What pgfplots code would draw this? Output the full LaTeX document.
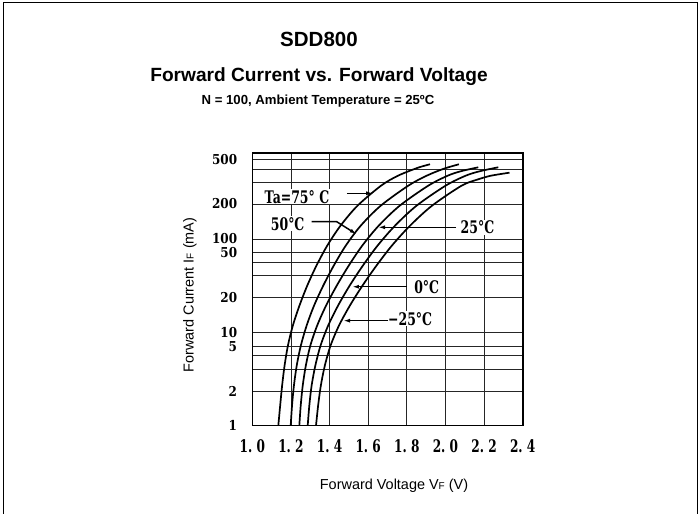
\documentclass[border=0pt]{standalone}
\usepackage{fontspec}
\setmainfont{Liberation Sans}
\newfontfamily\xserif[FakeStretch=0.7]{DejaVu Serif}
\newfontfamily\yserif[FakeStretch=0.88]{DejaVu Serif}
\newfontfamily\aserif[FakeStretch=0.72]{DejaVu Serif}
\usepackage{pgfplots}
\pgfplotsset{compat=1.18}
\usetikzlibrary{arrows.meta}

% Forward current (mA) vs forward voltage (V)
\pgfplotstableread{
V I
1.1346 1
1.1442 1.637
1.1543 2.679
1.1670 4.386
1.1843 7.178
1.2097 11.75
1.2439 19.23
1.2843 31.48
1.3319 51.53
1.3878 84.35
1.4567 138.1
1.5447 226.0
1.6664 369.9
1.7544 473.5
1.8579 576.6
1.9201 627.0
}\tseventyfive
\pgfplotstableread{
V I
1.1988 1
1.2056 1.637
1.2154 2.679
1.2299 4.386
1.2511 7.178
1.2811 11.75
1.3195 19.23
1.3671 31.48
1.4215 51.53
1.4836 84.35
1.5613 138.1
1.6648 226.0
1.8072 369.9
1.9030 473.5
1.9920 562.6
2.0697 627.0
}\tfifty
\pgfplotstableread{
V I
1.2434 1
1.2506 1.637
1.2610 2.679
1.2770 4.386
1.3003 7.178
1.3355 11.75
1.3816 19.23
1.4370 31.48
1.4991 51.53
1.5690 84.35
1.6544 138.1
1.7632 226.0
1.9107 369.9
2.0117 473.5
2.0806 529.0
2.1701 582.4
}\ttwentyfive
\pgfplotstableread{
V I
1.2868 1
1.2951 1.637
1.3070 2.679
1.3262 4.386
1.3531 7.178
1.3925 11.75
1.4437 19.23
1.5038 31.48
1.5721 51.53
1.6482 84.35
1.7388 138.1
1.8502 226.0
2.0003 369.9
2.1049 473.5
2.1789 529.0
2.2737 582.4
}\tzero
\pgfplotstableread{
V I
1.3298 1
1.3407 1.637
1.3547 2.679
1.3754 4.386
1.4049 7.178
1.4484 11.75
1.5048 19.23
1.5701 31.48
1.6425 51.53
1.7223 84.35
1.8165 138.1
1.9304 226.0
2.0832 369.9
2.1634 429.0
2.2359 473.5
2.3317 509.8
}\tminus

\begin{document}
\begin{tikzpicture}[x=1bp,y=1bp]
\useasboundingbox (0,0) rectangle (700,514);
\draw[line width=1bp] (3,0) -- (3,511.5) -- (697,511.5) -- (697,0);
\node[anchor=base, font=\bfseries\fontsize{20.6}{20.6}\selectfont] at (319,467.3) {SDD800};
\node[anchor=base, font=\bfseries\fontsize{19.2}{19.2}\selectfont] at (319,432) {Forward Current vs. Forward Voltage};
\node[anchor=base, font=\bfseries\fontsize{13.2}{13.2}\selectfont] at (318,409) {N = 100, Ambient Temperature = 25ºC};
\node[anchor=base, font=\fontsize{14.5}{14.5}\selectfont] at (394,24.5) {Forward Voltage V{\fontsize{10}{10}\selectfont F} (V)};
\node[rotate=90, font=\fontsize{14.5}{14.5}\selectfont] at (190,219) {Forward Current I{\fontsize{10}{10}\selectfont F} (mA)};
\begin{axis}[
  at={(252.3bp,88.3bp)}, anchor=south west,
  scale only axis, width=270.4bp, height=272.4bp,
  ymode=log,
  xmin=1, xmax=2.4, ymin=1, ymax=822.2,
  xtick={1,1.2,1.4,1.6,1.8,2,2.2,2.4},
  xticklabels={1.\ 0,1.\ 2,1.\ 4,1.\ 6,1.\ 8,2.\ 0,2.\ 2,2.\ 4},
  ytick={1,2.351,4.013,5.666,7.004,9.99,23.66,40.29,55.51,71.72,99.5,235.7,402.3,558.3,709.4},
  yticklabels={1,2,,,5,10,20,,,50,100,200,,,500},
  major tick length=0pt,
  grid=major,
  major grid style={line width=0.7bp, black!85},
  axis line style={line width=1.6bp},
  xticklabel style={font=\xserif\bfseries\fontsize{17.4}{17.4}\selectfont, inner sep=0pt, yshift=-14bp},
  yticklabel style={font=\yserif\bfseries\fontsize{13.7}{13.7}\selectfont, inner sep=0pt, xshift=-15bp},
]
\addplot[line width=1.7bp, black, smooth] table[x=V,y=I] {\tseventyfive};
\addplot[line width=1.7bp, black, smooth] table[x=V,y=I] {\tfifty};
\addplot[line width=1.7bp, black, smooth] table[x=V,y=I] {\ttwentyfive};
\addplot[line width=1.7bp, black, smooth] table[x=V,y=I] {\tzero};
\addplot[line width=1.7bp, black, smooth] table[x=V,y=I] {\tminus};
\tikzset{ann/.style={font=\aserif\bfseries\fontsize{17.4}{17.4}\selectfont, fill=white, inner sep=1bp},
         arr/.style={line width=1.5bp, -{Latex[length=7bp,width=4bp]}}}
\node[ann] at (axis cs:1.231,282) {Ta=75° C};
\draw[arr] (axis cs:1.489,307) -- (axis cs:1.626,307);
\node[ann] at (axis cs:1.183,145) {50°C};
\draw[arr] (axis cs:1.3075,152.4) -- (axis cs:1.437,152.4) -- (axis cs:1.5405,111.7);
\node[ann] at (axis cs:2.166,132.8) {25°C};
\draw[arr] (axis cs:2.055,132.8) -- (axis cs:1.651,132.8);
\node[ann] at (axis cs:1.903,30.5) {0°C};
\draw[arr] (axis cs:1.799,30.7) -- (axis cs:1.516,30.7);
\node[ann] at (axis cs:1.817,13.9) {−25°C};
\draw[arr] (axis cs:1.704,13.3) -- (axis cs:1.470,13.3);
\end{axis}
\end{tikzpicture}
\end{document}
